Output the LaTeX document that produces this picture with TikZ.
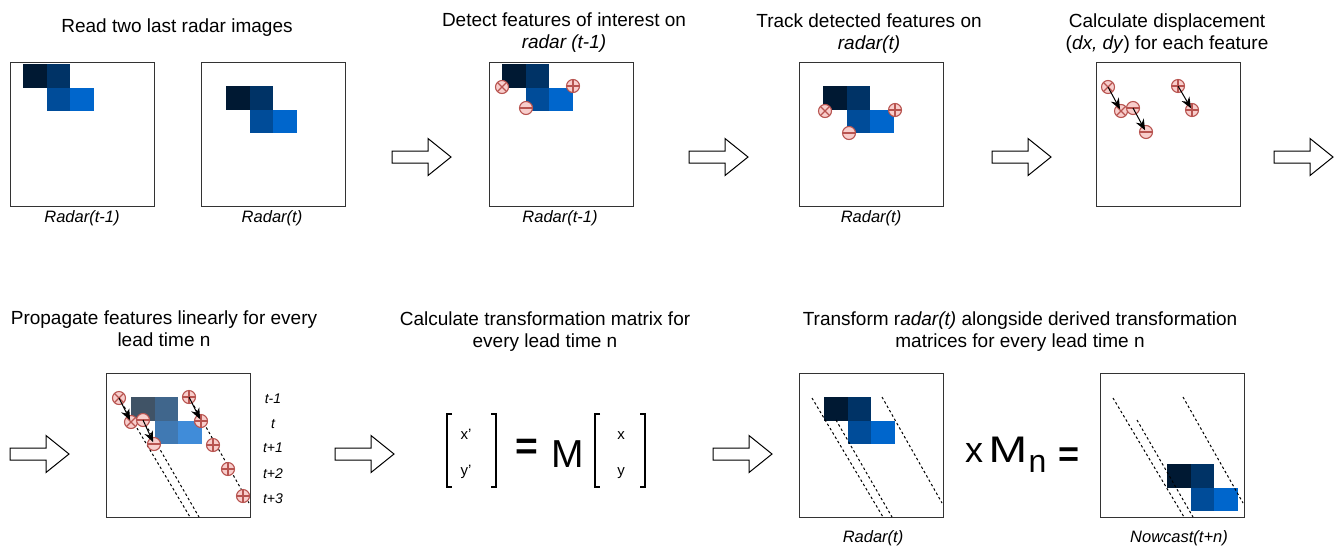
\documentclass[tikz,border=0pt]{standalone}
\usepackage{fontspec}
\setmainfont{Liberation Sans}
\usetikzlibrary{arrows.meta}
\definecolor{radarA}{HTML}{001933}
\definecolor{radarB}{HTML}{003366}
\definecolor{radarC}{HTML}{004C99}
\definecolor{radarD}{HTML}{0066CC}
\definecolor{featfill}{HTML}{F8CECC}
\definecolor{featline}{HTML}{B85450}
\tikzset{
  panel/.style={draw=black!80, line width=1.3pt, minimum width=144pt, minimum height=144pt, anchor=north west, inner sep=0pt},
  steptitle/.style={font=\fontsize{19}{22}\selectfont, align=center, anchor=base},
  panelcaption/.style={font=\fontsize{16.5}{19}\selectfont\itshape, anchor=base},
  timelabel/.style={font=\fontsize{14}{16}\selectfont\itshape, anchor=base},
  feat/.style={circle, draw=featline, fill=featfill, line width=1.1pt, minimum size=13pt, inner sep=0pt, outer sep=0pt},
  featstroke/.style={featline, line width=1.1pt},
  movearrow/.style={-{Stealth[length=11pt,width=9pt]}, line width=1pt, shorten >=2pt},
  track/.style={dash pattern=on 2.5pt off 2.5pt, line width=1pt},
  bracket/.style={line width=2pt},
  mathtext/.style={font=\fontsize{15}{17}\selectfont, anchor=base}
}
\newcommand{\radarblock}[3]{
  \begin{scope}[shift={(#1,#2)}, opacity=#3]
    \fill[radarA] (0,0) rectangle (23.5,23.5);
    \fill[radarB] (23.5,0) rectangle (47,23.5);
    \fill[radarC] (23.5,23.5) rectangle (47,47);
    \fill[radarD] (47,23.5) rectangle (70.5,47);
  \end{scope}}
\newcommand{\featx}[3]{\node[feat] (#1) at (#2,#3) {};
  \draw[featstroke] (#1.north east) -- (#1.south west) (#1.north west) -- (#1.south east);}
\newcommand{\featp}[3]{\node[feat] (#1) at (#2,#3) {};
  \draw[featstroke] (#1.north) -- (#1.south) (#1.west) -- (#1.east);}
\newcommand{\featm}[3]{\node[feat] (#1) at (#2,#3) {};
  \draw[featstroke] (#1.west) -- (#1.east);}
\newcommand{\hollowarrow}[2]{\draw[line width=1pt, fill=white] (#1,#2-6) -- (#1+36,#2-6) -- (#1+36,#2-18.5) -- (#1+59,#2) -- (#1+36,#2+18.5) -- (#1+36,#2+6) -- (#1,#2+6) -- cycle;}
\newcommand{\tracklines}[1]{
  \begin{scope}[xshift=#1]
    \draw[track] (119,398) -- (190,517);
    \draw[track] (143,420) -- (199,517);
    \draw[track] (189,397) -- (249,503);
  \end{scope}}

\begin{document}
\begin{tikzpicture}[x=1pt, y=-1pt]
\useasboundingbox (0,0) rectangle (1338,547);

% top row panels
\node[panel] (b1) at (10,62) {};
\node[panel] (b2) at (201,62) {};
\node[panel] (b3) at (489,62) {};
\node[panel] (b4) at (799,62) {};
\node[panel] (b5) at (1096,62) {};
% bottom row panels
\node[panel] (b6) at (106,373) {};
\node[panel] (b7) at (799,373) {};
\node[panel] (b8) at (1100,373) {};

% step titles (base = last line)
\node[steptitle] (t1) at (177,32) {Read two last radar images};
\node[steptitle] (t2) at (564,48) {Detect features of interest on\\\textit{radar (t-1)}};
\node[steptitle] (t3) at (869,49) {Track detected features on\\\textit{radar(t)}};
\node[steptitle] (t4) at (1167,49) {Calculate displacement\\(\textit{dx, dy}) for each feature};
\node[steptitle] (t5) at (164,346) {Propagate features linearly for every\\lead time n};
\node[steptitle] (t6) at (545,347) {Calculate transformation matrix for\\every lead time n};
\node[steptitle] (t7) at (1020,347) {Transform r\textit{adar(t)} alongside derived transformation\\matrices for every lead time n};

% panel captions
\node[panelcaption] (c1) at (82,222) {Radar(t-1)};
\node[panelcaption] (c2) at (272,222) {Radar(t)};
\node[panelcaption] (c3) at (560,222) {Radar(t-1)};
\node[panelcaption] (c4) at (871,222) {Radar(t)};
\node[panelcaption] (c7) at (873,542) {Radar(t)};
\node[panelcaption] (c8) at (1179,542) {Nowcast(t+n)};

% block arrows between steps
\hollowarrow{392}{157}
\hollowarrow{689}{157}
\hollowarrow{992}{157}
\hollowarrow{1274}{157}
\hollowarrow{10}{454}
\hollowarrow{335}{454}
\hollowarrow{713}{454}

% radar(t-1) and radar(t)
\radarblock{23}{64}{1}
\radarblock{226}{86}{1}

% detected features
\radarblock{502}{64}{1}
\featx{dx}{502}{87}
\featp{dp}{573}{86}
\featm{dm}{526}{108}

% tracked features
\radarblock{823}{86}{1}
\featx{kx}{825}{111}
\featp{kp}{895}{110}
\featm{km}{849}{133}

% displacement
\featx{sxa}{1108}{87}
\featx{sxb}{1121}{111}
\featm{sma}{1133}{108}
\featm{smb}{1146}{132}
\featp{spa}{1178}{86}
\featp{spb}{1192}{110}
\draw[movearrow] (sxa.center) -- (sxb.center);
\draw[movearrow] (sma.center) -- (smb.center);
\draw[movearrow] (spa.center) -- (spb.center);

% propagation
\tracklines{0pt}
\radarblock{131}{397}{0.75}
\featx{gxa}{119}{398}
\featx{gxb}{131}{422}
\featm{gma}{143}{420}
\featm{gmb}{154}{444}
\featp{gpa}{189}{397}
\featp{gpb}{201}{421}
\featp{gpc}{213}{445}
\featp{gpd}{228}{469}
\featp{gpe}{243}{496}
\draw[movearrow] (gxa.center) -- (gxb.center);
\draw[movearrow] (gma.center) -- (gmb.center);
\draw[movearrow] (gpa.center) -- (gpb.center);
\node[timelabel] (l1) at (273,403) {t-1};
\node[timelabel] (l2) at (273,428) {t};
\node[timelabel] (l3) at (273,452) {t+1};
\node[timelabel] (l4) at (273,478) {t+2};
\node[timelabel] (l5) at (273,503) {t+3};

% transformation matrix
\draw[bracket] (452,414) -| (447,487) -- (452,487);
\draw[bracket] (491,414) -| (496,487) -- (491,487);
\draw[bracket] (600,414) -| (595,487) -- (600,487);
\draw[bracket] (640,414) -| (645,487) -- (640,487);
\node[mathtext] (xn) at (466,439) {x'};
\node[mathtext] (yn) at (466,475) {y'};
\node[mathtext] (xo) at (621,439) {x};
\node[mathtext] (yo) at (621,475) {y};
\node[mathtext, font=\fontsize{39}{40}\selectfont\bfseries] (eqa) at (527,459) {=};
\node[mathtext, font=\fontsize{39}{40}\selectfont] (mat) at (568,467) {M};

% transform radar(t)
\radarblock{824}{397}{1}
\tracklines{693pt}
\node[mathtext, font=\fontsize{36}{38}\selectfont] (xm) at (974,462) {x};
\node[mathtext, font=\fontsize{37}{38}\selectfont] (mm) at (1008,462) {\scalebox{1.25}[1]{M}};
\node[mathtext, font=\fontsize{32}{34}\selectfont, anchor=base west] (sub) at (1025,472) {n};
\node[mathtext, font=\fontsize{36}{38}\selectfont\bfseries] (eqb) at (1069,466) {=};
\radarblock{1167}{464}{1}
\tracklines{994pt}
\end{tikzpicture}
\end{document}
